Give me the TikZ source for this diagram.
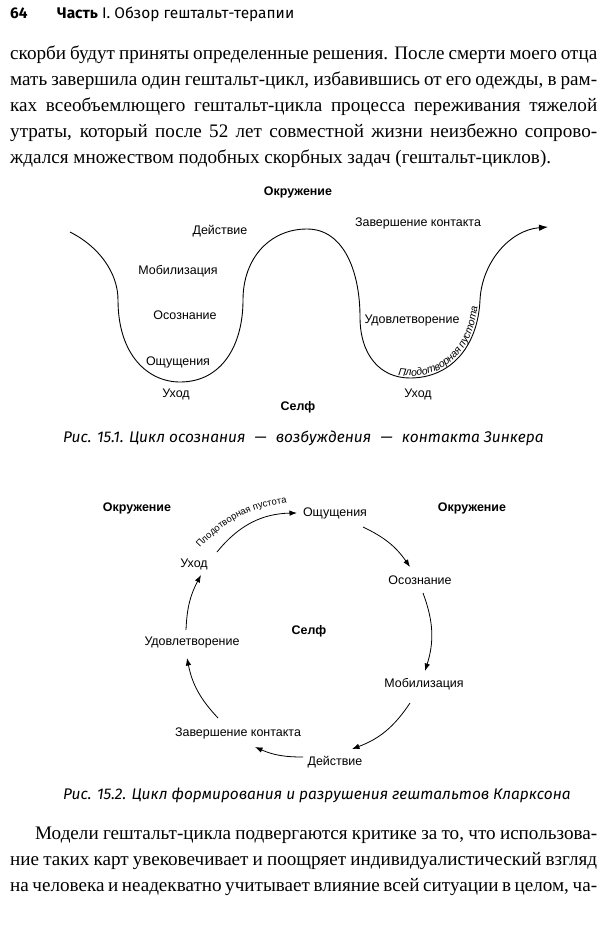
\documentclass[tikz,border=0pt]{standalone}
\usepackage{fontspec}
\setmainfont{Liberation Serif}
\newfontfamily\diagfont{Liberation Sans}
\newfontfamily\capfont{Fira Sans}
\usetikzlibrary{arrows.meta, decorations.text}

\begin{document}
\begin{tikzpicture}[
    x=1bp, y=-1bp,
    bodytext/.style={anchor=base west, inner sep=0pt, font=\fontsize{19.2}{24}\selectfont},
    headtext/.style={anchor=base west, inner sep=0pt, font=\capfont\fontsize{15.5}{18}\selectfont},
    captext/.style={anchor=base west, inner sep=0pt, font=\capfont\itshape\fontsize{15.5}{18}\selectfont},
    lbl/.style={inner sep=1pt, font=\diagfont\fontsize{12.5}{14}\selectfont},
    envlbl/.style={inner sep=1pt, font=\diagfont\bfseries\fontsize{12.5}{14}\selectfont},
    wave/.style={line width=0.9bp, -{Latex[length=9bp, width=6.5bp]}},
    cyc/.style={line width=0.8bp, -{Latex[length=7.5bp, width=5.5bp]}}
]
\useasboundingbox (0,0) rectangle (598,926);
\fill[white] (0,0) rectangle (598,926);

% page header
\node[headtext] (pagenum) at (10,18) {\bfseries 64};
\node[headtext] (runhead) at (57,18) {\bfseries Часть\mdseries{} I. Обзор гештальт-терапии};

% text above the figures
\node[bodytext] (tA1) at (10,59)  {\makebox[587bp][s]{скорби будут приняты определенные решения. После смерти моего отца}};
\node[bodytext] (tA2) at (10,85)  {\makebox[587bp][s]{мать завершила один гештальт-цикл, избавившись от его одежды, в рам-}};
\node[bodytext] (tA3) at (10,111) {\makebox[587bp][s]{ках всеобъемлющего гештальт-цикла процесса переживания тяжелой}};
\node[bodytext] (tA4) at (10,137) {\makebox[587bp][s]{утраты, который после 52 лет совместной жизни неизбежно сопрово-}};
\node[bodytext] (tA5) at (10,163) {ждался множеством подобных скорбных задач (гештальт-циклов).};

% Fig. 15.1 -- wave
\draw[wave] (70,232) .. controls (98,246) and (118,272) .. (118,300)
    .. controls (118,355) and (148,382) .. (180,382)
    .. controls (222,382) and (243,345) .. (243,300)
    .. controls (243,258) and (270,229) .. (307,229)
    .. controls (344,229) and (360,272) .. (360,317)
    .. controls (360,355) and (380,378) .. (410,378)
    .. controls (452,378) and (478,345) .. (480,300)
    .. controls (482,262) and (510,230) .. (548,227);
\path[decorate, decoration={text along path, raise=2bp, text align=left,
    text={|\diagfont\itshape\fontsize{10.5}{12}\selectfont|Плодотворная пустота}}]
    (398,377) .. controls (402,378) and (406,378) .. (410,378)
    .. controls (452,378) and (478,345) .. (480,300) .. controls (481,290) and (482,285) .. (484,278);

\node[envlbl] (envA)   at (298,192) {Окружение};
\node[lbl]    (actA)   at (220,231) {Действие};
\node[lbl]    (finA)   at (418,223) {Завершение контакта};
\node[lbl]    (mobA)   at (178,271) {Мобилизация};
\node[lbl]    (awaA)   at (185,315) {Осознание};
\node[lbl]    (satA)   at (412,321) {Удовлетворение};
\node[lbl]    (senA)   at (178,362) {Ощущения};
\node[lbl]    (wdrA)   at (176,394) {Уход};
\node[lbl]    (wdrAb)  at (418,394) {Уход};
\node[envlbl] (selfA)  at (298,407) {Селф};

\node[captext] (capA) at (63,442) {Рис. 15.1. Цикл осознания\hspace{0.6em}—\hspace{0.6em}возбуждения\hspace{0.6em}—\hspace{0.6em}контакта Зинкера};

% Fig. 15.2 -- cycle
\node[envlbl] (envBl)  at (137,508) {Окружение};
\node[envlbl] (envBr)  at (472,508) {Окружение};
\node[lbl]    (senB)   at (335,513) {Ощущения};
\node[lbl]    (wdrB)   at (194,564) {Уход};
\node[lbl]    (awaB)   at (420,580) {Осознание};
\node[envlbl] (selfB)  at (309,631) {Селф};
\node[lbl]    (satB)   at (192,642) {Удовлетворение};
\node[lbl]    (mobB)   at (424,684) {Мобилизация};
\node[lbl]    (finB)   at (238,733) {Завершение контакта};
\node[lbl]    (actB)   at (335,762) {Действие};

\draw[cyc] ([shift={(23,-12)}]wdrB.center) to[bend left=25] ([shift={(-38,0)}]senB.center);
\draw[cyc] ([shift={(28,14)}]senB.center)  to[bend left=15] ([shift={(-10,-13)}]awaB.center);
\draw[cyc] ([shift={(3,13)}]awaB.center)   to[bend left=19] ([shift={(1,-13)}]mobB.center);
\draw[cyc] ([shift={(-14,19)}]mobB.center) to[bend left=18] ([shift={(17,-13)}]actB.center);
\draw[cyc] ([shift={(-32,-5)}]actB.center) to[bend left=12] ([shift={(17,14)}]finB.center);
\draw[cyc] ([shift={(-20,-15)}]finB.center) to[bend left=16] ([shift={(-5,16)}]satB.center);
\draw[cyc] ([shift={(-6,-12)}]satB.center) to[bend left=13] ([shift={(7,11)}]wdrB.center);
\path[decorate, decoration={text along path, raise=0bp, text align=left,
    text={|\diagfont\fontsize{9.5}{11}\selectfont|Плодотворная пустота}}]
    ([shift={(6,-16)}]wdrB.center) to[bend left=22] ([shift={(-36,-11)}]senB.center);

\node[captext] (capB) at (63,799) {Рис. 15.2. Цикл формирования и разрушения гештальтов Кларксона};

% text below the figures
\node[bodytext] (tB1) at (35,839) {\makebox[562bp][s]{Модели гештальт-цикла подвергаются критике за то, что использова-}};
\node[bodytext] (tB2) at (10,865) {\makebox[587bp][s]{ние таких карт увековечивает и поощряет индивидуалистический взгляд}};
\node[bodytext] (tB3) at (10,891) {\makebox[587bp][s]{на человека и неадекватно учитывает влияние всей ситуации в целом, ча-}};
\end{tikzpicture}
\end{document}
